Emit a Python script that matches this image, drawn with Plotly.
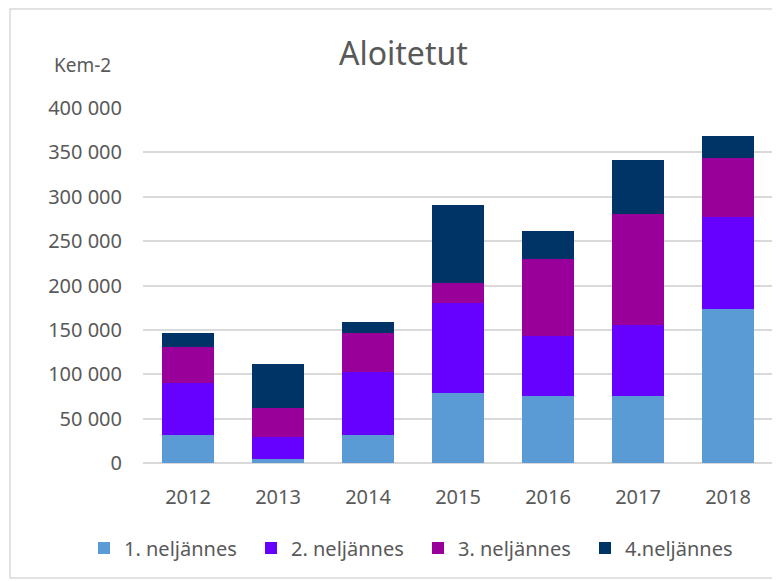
import plotly.graph_objects as go

years = ["2012", "2013", "2014", "2015", "2016", "2017", "2018"]
q1 = [31000, 4000, 31000, 79000, 75000, 75000, 173000]
q2 = [59000, 25000, 71000, 101000, 68000, 81000, 104000]
q3 = [41000, 33000, 44000, 23000, 87000, 125000, 67000]
q4 = [16000, 49000, 13000, 88000, 31000, 60000, 24000]
names = ["1. neljännes", "2. neljännes", "3. neljännes", "4.neljännes"]
colors = ["#5B9BD5", "#6600FF", "#990099", "#003366"]

fig = go.Figure()
for vals, nm, c in zip([q1, q2, q3, q4], names, colors):
    fig.add_trace(go.Bar(x=years, y=vals, name=nm, marker=dict(color=c, line=dict(width=0))))

FONT = "Noto Sans, sans-serif"
W, H = 772, 573
L, R, T, B = 135, 7, 100, 118
PW, PH = W - L - R, H - T - B


def px(x):
    return (x - L) / PW


def py(y):
    return (H - B - y) / PH


fig.update_layout(
    barmode="stack",
    bargap=0.433,
    width=W, height=H,
    margin=dict(l=L, r=R, t=T, b=B),
    paper_bgcolor="white", plot_bgcolor="white",
    separators=", ",
    font=dict(family=FONT, size=20, color="#595959"),
    showlegend=True,
    legend=dict(orientation="h", x=px(76), xanchor="left", y=py(540), yanchor="middle",
                font=dict(size=20, color="#595959"), itemwidth=30, traceorder="normal",
                entrywidth=122, entrywidthmode="pixels"),
    xaxis=dict(showgrid=False, showline=False, ticks="", ticklabelstandoff=20,
               tickfont=dict(size=20, color="#595959")),
    yaxis=dict(range=[0, 400000], dtick=50000, tickformat=",d", showgrid=True,
               gridcolor="#D9D9D9", gridwidth=1.5, zeroline=True, zerolinecolor="#D9D9D9",
               zerolinewidth=1.5, showline=False, ticks="", ticklabelstandoff=20,
               tickfont=dict(size=20, color="#595959")),
    annotations=[
        dict(text="Aloitetut", xref="paper", yref="paper", x=px(395), y=py(45),
             xanchor="center", yanchor="middle", showarrow=False,
             font=dict(size=32, color="#595959", family=FONT)),
        dict(text="Kem-2", xref="paper", yref="paper", x=px(44), y=py(57),
             xanchor="left", yanchor="middle", showarrow=False,
             font=dict(size=19, color="#595959", family=FONT)),
    ],
    shapes=[dict(type="rect", xref="paper", yref="paper",
                 x0=px(2), x1=px(769), y0=py(570), y1=py(1),
                 line=dict(color="#D9D9D9", width=1.5), fillcolor="rgba(0,0,0,0)", layer="below")],
)

fig.write_html("out.html")
